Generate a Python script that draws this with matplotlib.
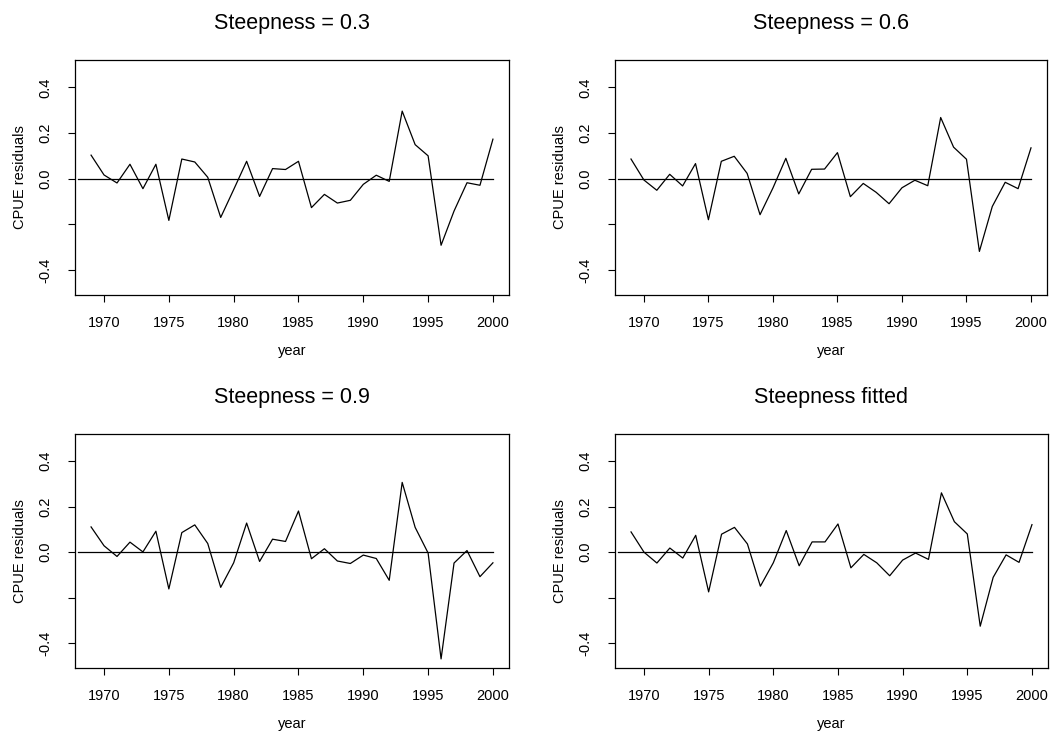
import numpy as np
import matplotlib
matplotlib.use("Agg")
import matplotlib.pyplot as plt

plt.rcParams['font.family'] = ['Liberation Sans', 'DejaVu Sans']

years = list(range(1969, 2001))

resid_h03 = [0.103, 0.016, -0.019, 0.063, -0.044, 0.063, -0.183, 0.086, 0.073, 0.006,
             -0.170, -0.048, 0.076, -0.078, 0.044, 0.040, 0.076, -0.127, -0.069, -0.107,
             -0.095, -0.025, 0.015, -0.012, 0.296, 0.149, 0.100, -0.292, -0.142, -0.018,
             -0.029, 0.173]

resid_h06 = [0.086, -0.006, -0.051, 0.019, -0.032, 0.066, -0.180, 0.076, 0.098, 0.023,
             -0.158, -0.041, 0.089, -0.067, 0.041, 0.042, 0.114, -0.079, -0.021, -0.060,
             -0.110, -0.040, -0.007, -0.031, 0.268, 0.138, 0.085, -0.319, -0.122, -0.016,
             -0.044, 0.135]

resid_h09 = [0.111, 0.028, -0.019, 0.044, 0.001, 0.092, -0.162, 0.086, 0.120, 0.038,
             -0.155, -0.047, 0.128, -0.041, 0.057, 0.047, 0.181, -0.029, 0.015, -0.039,
             -0.050, -0.013, -0.028, -0.124, 0.307, 0.109, -0.004, -0.470, -0.048, 0.007,
             -0.108, -0.047]

resid_fit = [0.089, 0.000, -0.048, 0.018, -0.026, 0.074, -0.175, 0.079, 0.109, 0.036,
             -0.150, -0.047, 0.095, -0.060, 0.045, 0.045, 0.124, -0.069, -0.010, -0.047,
             -0.104, -0.035, -0.004, -0.032, 0.261, 0.134, 0.080, -0.326, -0.111, -0.012,
             -0.045, 0.121]

titles = ["Steepness = 0.3", "Steepness = 0.6", "Steepness = 0.9", "Steepness fitted"]
series = [resid_h03, resid_h06, resid_h09, resid_fit]

x_ticks = [1970, 1975, 1980, 1985, 1990, 1995, 2000]
y_ticks = [-0.4, -0.2, 0.0, 0.2, 0.4]
y_tick_labels = ["-0.4", "", "0.0", "0.2", "0.4"]

W, H = 1055, 733
fig = plt.figure(figsize=(W / 100, H / 100), dpi=100)

# panel boxes in pixels: left, right, top, bottom
boxes = [(75, 509, 60, 295), (615, 1047, 60, 295),
         (75, 509, 434, 668), (615, 1048, 434, 668)]

for (l, r, t, b), title, vals in zip(boxes, titles, series):
    ax = fig.add_axes([l / W, 1 - b / H, (r - l) / W, (b - t) / H])
    ax.plot(years, vals, color='black', lw=0.9)
    ax.plot([1968, 2000], [0, 0], color='black', lw=0.9)
    ax.set_xlim(1967.76, 2001.24)
    ax.set_ylim(-0.51, 0.52)
    ax.set_xticks(x_ticks)
    ax.set_yticks(y_ticks)
    ax.set_yticklabels(y_tick_labels, rotation=90, va='center')
    ax.tick_params(axis='both', direction='out', length=5, width=0.8,
                   labelsize=10.5, color='black')
    ax.tick_params(axis='x', pad=10)
    ax.tick_params(axis='y', pad=11)
    for sp in ax.spines.values():
        sp.set_linewidth(0.9)
        sp.set_color('black')
    hpx = b - t
    wpx = r - l
    ax.set_xlabel("year", fontsize=10.5)
    ax.xaxis.set_label_coords(0.5, -56 / hpx)
    ax.xaxis.label.set_va('center')
    ax.set_ylabel("CPUE residuals", fontsize=10.5)
    ax.yaxis.set_label_coords(-55 / wpx, 0.5)
    ax.yaxis.label.set_va('center')
    ax.text(0.5, 1 + 37 / hpx, title, transform=ax.transAxes,
            ha='center', va='center', fontsize=15.5)

fig.savefig("out.png", dpi=100)
